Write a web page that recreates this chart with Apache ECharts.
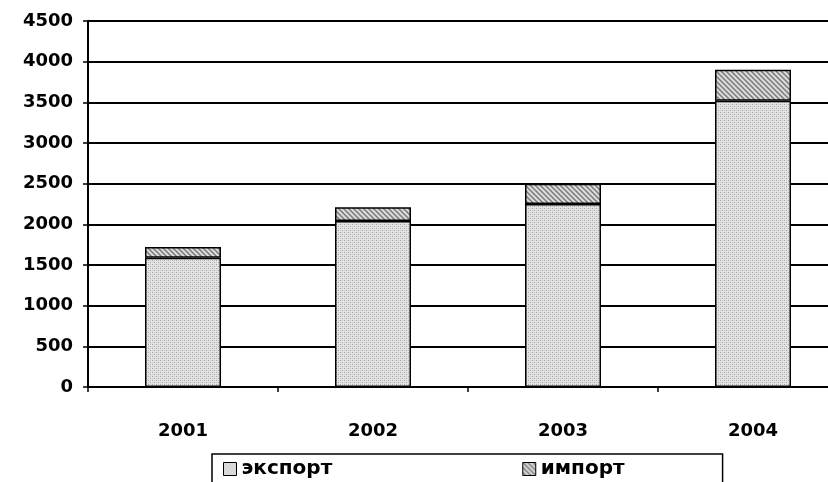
<!DOCTYPE html>
<html>
<head>
<meta charset="utf-8">
<script src="https://cdn.jsdelivr.net/npm/echarts@6/dist/echarts.min.js"></script>
<style>
  html, body { margin: 0; padding: 0; background: #fff; overflow: hidden; }
  #chart { width: 848px; height: 482px; }
</style>
</head>
<body>
<div id="chart"></div>
<script>
var years = ['2001', '2002', '2003', '2004'];
var exportVals = [1590, 2040, 2250, 3520];
var importVals = [130, 170, 250, 380];
var seriesNames = ['экспорт', 'импорт'];

// stipple fill for export
function makeDots() {
  var c = document.createElement('canvas');
  c.width = 4; c.height = 4;
  var g = c.getContext('2d');
  g.fillStyle = '#e4e4e4';
  g.fillRect(0, 0, 4, 4);
  g.fillStyle = '#a4a4a4';
  g.fillRect(0, 0, 1, 1);
  g.fillRect(2, 2, 1, 1);
  g.fillStyle = '#c8c8c8';
  g.fillRect(2, 0, 1, 1);
  g.fillRect(0, 2, 1, 1);
  return c;
}
// diagonal hatch for import
function makeHatch() {
  var c = document.createElement('canvas');
  c.width = 5; c.height = 5;
  var g = c.getContext('2d');
  g.fillStyle = '#dcdcdc';
  g.fillRect(0, 0, 5, 5);
  g.strokeStyle = '#7a7a7a';
  g.lineWidth = 1.5;
  g.beginPath();
  g.moveTo(-1, -1); g.lineTo(6, 6);
  g.moveTo(-4, 1); g.lineTo(4, 9);
  g.moveTo(1, -4); g.lineTo(9, 4);
  g.stroke();
  return c;
}

var font = 'DejaVu Sans';
var chart = echarts.init(document.getElementById('chart'));
chart.setOption({
  animation: false,
  backgroundColor: '#fff',
  grid: { left: 88, top: 21, width: 760, height: 366, containLabel: false },
  xAxis: {
    type: 'category',
    data: years,
    axisLine: { lineStyle: { color: '#000', width: 2 } },
    axisTick: { show: true, length: 5, lineStyle: { color: '#000', width: 1.5 } },
    axisLabel: { color: '#000', fontFamily: font, fontWeight: 'bold', fontSize: 18, margin: 35 }
  },
  yAxis: {
    type: 'value',
    min: 0, max: 4500, interval: 500,
    axisLine: { show: true, lineStyle: { color: '#000', width: 2 } },
    axisTick: { show: true, length: 5, lineStyle: { color: '#000', width: 1.5 } },
    splitLine: { lineStyle: { color: '#000', width: 2 } },
    axisLabel: {
      color: '#000', fontFamily: font, fontWeight: 'bold', fontSize: 18, margin: 15,
      formatter: function (v) { return String(v); }
    }
  },
  legend: {
    left: 212, top: 454,
    data: seriesNames,
    icon: 'rect',
    itemWidth: 13, itemHeight: 13, itemGap: 190,
    padding: [5, 98, 12, 11],
    borderColor: '#000', borderWidth: 1.5,
    textStyle: { color: '#000', fontFamily: font, fontWeight: 'bold', fontSize: 20 },
    itemStyle: { borderColor: '#000', borderWidth: 1 }
  },
  series: [
    {
      name: seriesNames[0], type: 'bar', stack: 'total', data: exportVals, barWidth: '40%',
      itemStyle: { color: { image: makeDots(), repeat: 'repeat' }, borderColor: '#000', borderWidth: 1.5 }
    },
    {
      name: seriesNames[1], type: 'bar', stack: 'total', data: importVals, barWidth: '40%',
      itemStyle: { color: { image: makeHatch(), repeat: 'repeat' }, borderColor: '#000', borderWidth: 1.5 }
    }
  ]
});
</script>
</body>
</html>
